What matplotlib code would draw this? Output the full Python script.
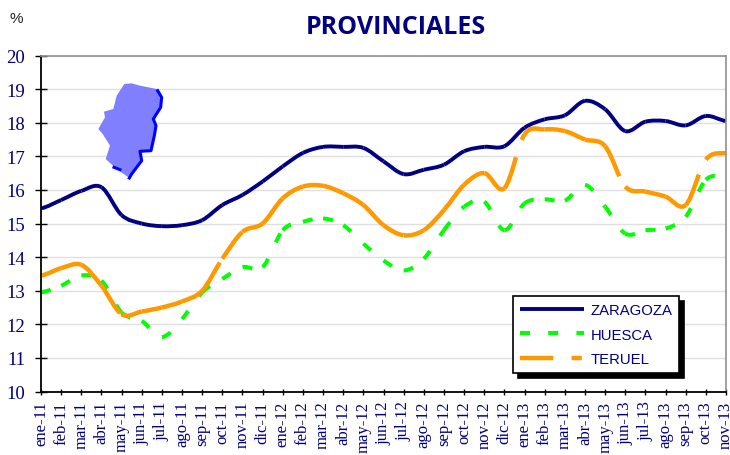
import matplotlib
matplotlib.use('Agg')
import matplotlib.pyplot as plt
from matplotlib.lines import Line2D
from matplotlib.patches import PathPatch, Polygon
from matplotlib.path import Path

months = ['ene-11', 'feb-11', 'mar-11', 'abr-11', 'may-11', 'jun-11', 'jul-11', 'ago-11', 'sep-11',
          'oct-11', 'nov-11', 'dic-11', 'ene-12', 'feb-12', 'mar-12', 'abr-12', 'may-12', 'jun-12',
          'jul-12', 'ago-12', 'sep-12', 'oct-12', 'nov-12', 'dic-12', 'ene-13', 'feb-13', 'mar-13',
          'abr-13', 'may-13', 'jun-13', 'jul-13', 'ago-13', 'sep-13', 'oct-13', 'nov-13']
zaragoza = [15.45, 15.7, 15.97, 16.08, 15.25, 15.0, 14.92, 14.95, 15.1, 15.55, 15.85, 16.25,
            16.7, 17.1, 17.28, 17.28, 17.25, 16.85, 16.47, 16.6, 16.75, 17.15, 17.28, 17.3,
            17.85, 18.1, 18.22, 18.65, 18.4, 17.75, 18.03, 18.05, 17.92, 18.2, 18.05]
huesca = [12.95, 13.15, 13.45, 13.3, 12.35, 12.1, 11.62, 12.16, 12.95, 13.35, 13.7, 13.7,
          14.8, 15.05, 15.15, 14.95, 14.4, 13.9, 13.6, 13.95, 14.8, 15.5, 15.65, 14.8,
          15.6, 15.72, 15.68, 16.15, 15.5, 14.7, 14.8, 14.85, 15.2, 16.3, 16.4]
teruel = [13.45, 13.67, 13.77, 13.15, 12.3, 12.38, 12.5, 12.68, 13.0, 13.95, 14.75, 15.0,
          15.75, 16.1, 16.12, 15.9, 15.55, 14.95, 14.65, 14.8, 15.4, 16.15, 16.5, 16.05,
          17.65, 17.8, 17.75, 17.5, 17.3, 16.1, 15.95, 15.8, 15.55, 16.9, 17.1]
yticks = list(range(10, 21))

W, H = 730, 456
navy = '#000080'
green = '#00ff00'
orange = '#ff9900'
green_dash = (2.5, 4.5)
orange_dash = (7.5, 4.1, 2.3, 4.1)


def smooth_line(ax, values, color, lw, dash=None):
    # one curve per month, so the dash pattern restarts at every point
    ls = '-' if dash is None else (0, dash)
    for i in range(len(values) - 1):
        prev = values[max(i - 1, 0)]
        after = values[min(i + 2, len(values) - 1)]
        verts = [(i, values[i]), (i + 1 / 3, values[i] + (values[i + 1] - prev) / 6),
                 (i + 2 / 3, values[i + 1] - (after - values[i]) / 6), (i + 1, values[i + 1])]
        codes = [Path.MOVETO, Path.CURVE4, Path.CURVE4, Path.CURVE4]
        ax.add_patch(PathPatch(Path(verts, codes), fill=False, edgecolor=color, lw=lw, ls=ls,
                               capstyle='butt', joinstyle='round'))


fig = plt.figure(figsize=(W / 100, H / 100), dpi=100)
ax = fig.add_axes([41 / W, 1 - 392.5 / H, (726 - 41) / W, (392.5 - 56.5) / H])
x = list(range(len(months)))

smooth_line(ax, huesca, green, 2.9, green_dash)
smooth_line(ax, zaragoza, navy, 2.8)
smooth_line(ax, teruel, orange, 3.2, orange_dash)

ax.set_xlim(0, len(months) - 1)
ax.set_ylim(10, 20)
ax.set_yticks(yticks)
ax.set_xticks(x)
ax.set_xticklabels(months, rotation=90, family='Liberation Serif', fontsize=12, color=navy)
ax.set_yticklabels(yticks, family='Liberation Serif', fontsize=13.5, color=navy)
ax.tick_params(axis='x', direction='inout', length=5, width=1, color='black', pad=4)
ax.tick_params(axis='y', direction='inout', length=8.6, width=1, color='black', pad=7)
ax.grid(axis='y', color='#e0e0e0', lw=1)
ax.set_axisbelow(True)
for side in ['left', 'bottom']:
    ax.spines[side].set_color('black')
    ax.spines[side].set_linewidth(1.3)
for side in ['top', 'right']:
    ax.spines[side].set_color('#909090')
    ax.spines[side].set_linewidth(1.2)

# map of Aragon, pixels of a 3x crop with its corner at (90, 75)
map_crop = [(103, 30), (125, 28), (150, 35), (175, 40), (200, 45), (215, 70), (212, 100), (190, 135),
            (198, 155), (193, 185), (183, 230), (150, 232), (155, 260), (125, 300), (118, 312),
            (80, 285), (47, 255), (60, 215), (38, 180), (25, 165), (45, 130), (42, 113), (70, 105),
            (80, 65)]
edge_crop = [(203, 50), (215, 70), (212, 100), (190, 135), (198, 155), (193, 185), (183, 230),
             (150, 232), (155, 260), (125, 300), (118, 312)]
edge_low_crop = [(72, 280), (90, 287)]


def crop_to_fig(points):
    return [((90 + a / 3) / W, 1 - (75 + b / 3) / H) for a, b in points]


fig.add_artist(Polygon(crop_to_fig(map_crop), closed=True, transform=fig.transFigure,
                       facecolor='#8080ff', edgecolor='none'))
for part in [edge_crop, edge_low_crop]:
    pts = crop_to_fig(part)
    fig.add_artist(Line2D([p[0] for p in pts], [p[1] for p in pts], color='#0000ff', lw=2.2,
                          transform=fig.transFigure))

handles = [Line2D([], [], color=navy, lw=2.8, solid_capstyle='butt'),
           Line2D([], [], color=green, lw=2.9, dashes=green_dash, dash_capstyle='butt'),
           Line2D([], [], color=orange, lw=3.2, dashes=orange_dash, dash_capstyle='butt')]
leg = ax.legend(handles, ['ZARAGOZA', 'HUESCA', 'TERUEL'], loc='lower left',
                bbox_to_anchor=(513 / W, 1 - 374 / H), bbox_transform=fig.transFigure,
                fancybox=False, framealpha=1, edgecolor='black', borderaxespad=0,
                prop={'family': 'Liberation Sans', 'size': 10.7}, labelcolor=navy, handlelength=4.3,
                handletextpad=0.45, labelspacing=0.72, borderpad=0.45,
                shadow={'color': 'black', 'alpha': 1, 'ox': 3.6, 'oy': -3.6})
leg.get_frame().set_linewidth(1.2)

fig.text(10 / W, 1 - 19 / H, '%', fontsize=11, family='Liberation Sans', color='#222222',
         ha='left', va='center')
fig.text(396 / W, 1 - 27 / H, 'PROVINCIALES', fontsize=18, fontweight='bold', family='Open Sans',
         color=navy, ha='center', va='center')

fig.savefig('out.png', dpi=100)
